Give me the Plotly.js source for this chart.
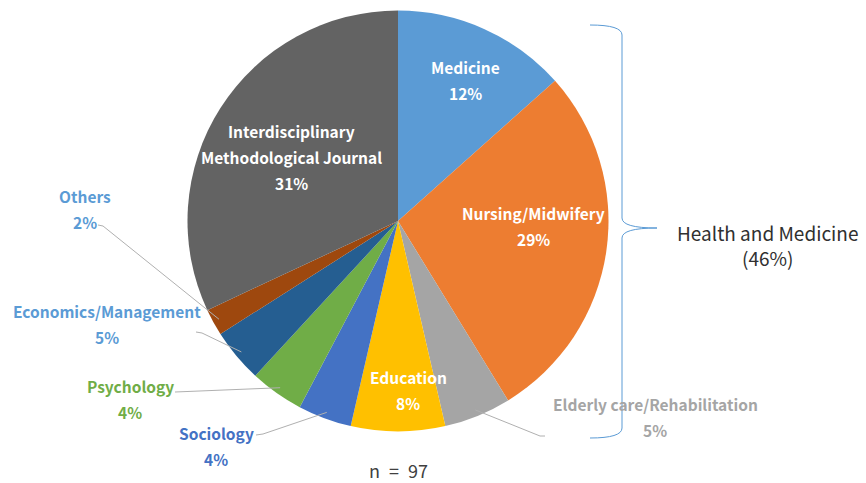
<!DOCTYPE html>
<html>
<head>
<meta charset="utf-8">
<script src="https://cdn.plot.ly/plotly-3.0.1.min.js"></script>
<style>html,body{margin:0;padding:0;background:#fff;}#chart{width:866px;height:483px;}</style>
</head>
<body>
<div id="chart"></div>
<script>
// ---- data ----
const categories = ['Medicine', 'Nursing/Midwifery', 'Elderly care/Rehabilitation', 'Education', 'Sociology', 'Psychology', 'Economics/Management', 'Others', 'Interdisciplinary Methodological Journal'];
const counts = [13, 27, 5, 7, 4, 4, 4, 2, 31];
const percentLabels = ['12%', '29%', '5%', '8%', '4%', '4%', '5%', '2%', '31%'];
const nameLines = [['Medicine'], ['Nursing/Midwifery'], ['Elderly care/Rehabilitation'], ['Education'], ['Sociology'], ['Psychology'], ['Economics/Management'], ['Others'], ['Interdisciplinary', 'Methodological Journal']];
const groupLabel = ['Health and Medicine', '(46%)'];
const sampleLabel = 'n\u2002=\u200297';

// ---- style / layout ----
const W = 866, H = 483;
const colors = ['#5B9BD5', '#ED7D31', '#A5A5A5', '#FFC000', '#4472C4', '#70AD47', '#255E91', '#9E480E', '#636363'];
const FONT = '"Noto Sans CJK JP", "Noto Sans", sans-serif';
const pieCx = 398, pieCy = 221, pieR = 210.5;
// label placement (pixel centre of first line), inside or outside
const placement = [
  {x: 466, y: 67, inside: true},
  {x: 533, y: 213, inside: true},
  {x: 655, y: 404, inside: false, color: '#A5A5A5', lead: [[545, 436], [540, 436]]},
  {x: 408, y: 377, inside: true},
  {x: 216, y: 433, inside: false, color: '#4472C4', lead: [[256, 435], [263, 434]]},
  {x: 130, y: 386, inside: false, color: '#70AD47', lead: [[175, 392]]},
  {x: 107, y: 311, inside: false, color: '#5B9BD5', lead: [[196, 332], [202, 333]]},
  {x: 85, y: 196, inside: false, color: '#5B9BD5', lead: [[98, 225], [103, 226]]},
  {x: 291, y: 131, inside: true}
];
const lineGap = 26;

const px = (x) => x / W;
const py = (y) => 1 - y / H;

const annotations = [];
const shapes = [];
const total = counts.reduce((a, b) => a + b, 0);
let cum = 0;
counts.forEach((v, i) => {
  const mid = (cum + v / 2) / total * 2 * Math.PI; // clockwise from 12 o'clock
  cum += v;
  const p = placement[i];
  const lines = nameLines[i].concat([percentLabels[i]]);
  lines.forEach((t, k) => {
    annotations.push({
      xref: 'paper', yref: 'paper', x: px(p.x), y: py(p.y + k * lineGap),
      xanchor: 'center', yanchor: 'middle', showarrow: false, text: '<b>' + t + '</b>',
      font: {family: FONT, size: 15.5, color: p.inside ? '#FFFFFF' : p.color}
    });
  });
  if (!p.inside) {
    const rr = pieR * 0.97;
    const rim = [pieCx + rr * Math.sin(mid), pieCy - rr * Math.cos(mid)];
    const pts = p.lead.concat([rim]);
    let d = 'M ' + px(pts[0][0]) + ',' + py(pts[0][1]);
    for (let j = 1; j < pts.length; j++) d += ' L ' + px(pts[j][0]) + ',' + py(pts[j][1]);
    shapes.push({type: 'path', xref: 'paper', yref: 'paper', path: d, line: {color: '#B0B0B0', width: 1}});
  }
});

// brace
const bx0 = 590, bx1 = 622, btip = 657, by0 = 25, bmid = 228, by1 = 438;
const P = (x, y) => px(x) + ',' + py(y);
const brace = 'M ' + P(bx0, by0) + ' Q ' + P(bx1, by0) + ' ' + P(bx1, by0 + 10) +
  ' L ' + P(bx1, bmid - 10) + ' Q ' + P(bx1, bmid) + ' ' + P(btip, bmid) +
  ' Q ' + P(bx1, bmid) + ' ' + P(bx1, bmid + 10) +
  ' L ' + P(bx1, by1 - 10) + ' Q ' + P(bx1, by1) + ' ' + P(bx0, by1);
shapes.push({type: 'path', xref: 'paper', yref: 'paper', path: brace, line: {color: '#5B9BD5', width: 1}});

annotations.push({xref: 'paper', yref: 'paper', x: px(767), y: py(245), xanchor: 'center', yanchor: 'middle',
  showarrow: false, text: groupLabel.join('<br>'), font: {family: FONT, size: 19, color: '#303030'}});
annotations.push({xref: 'paper', yref: 'paper', x: px(398), y: py(470), xanchor: 'center', yanchor: 'middle',
  showarrow: false, text: sampleLabel, font: {family: FONT, size: 18, color: '#404040'}});

const trace = {
  type: 'pie', labels: categories, values: counts, sort: false, direction: 'clockwise', rotation: 0,
  marker: {colors: colors, line: {width: 0}}, textinfo: 'none', hoverinfo: 'label+percent',
  domain: {x: [px(pieCx - pieR), px(pieCx + pieR)], y: [py(pieCy + pieR), py(pieCy - pieR)]}
};

Plotly.newPlot('chart', [trace], {
  width: W, height: H, margin: {l: 0, r: 0, t: 0, b: 0},
  paper_bgcolor: '#FFFFFF', showlegend: false,
  annotations: annotations, shapes: shapes
}, {staticPlot: true});
</script>
</body>
</html>
